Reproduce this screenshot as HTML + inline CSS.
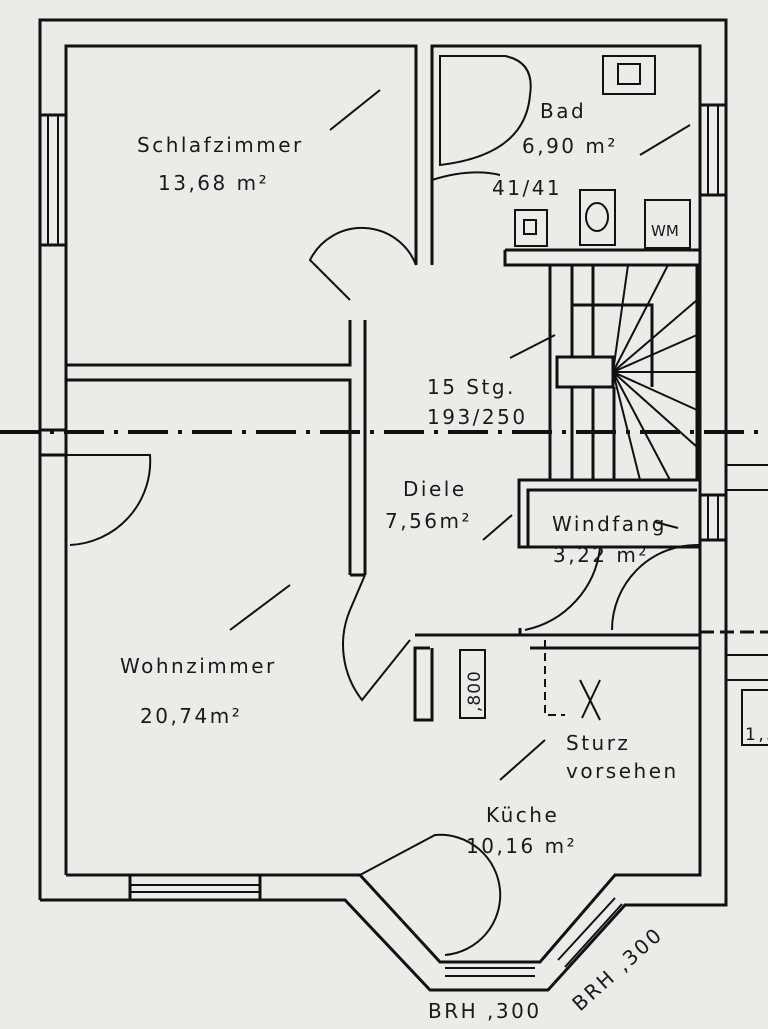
<!DOCTYPE html>
<html><head><meta charset="utf-8"><style>
html,body{margin:0;padding:0;background:#ececea;}
svg{display:block}
text{font-family:"DejaVu Sans","Liberation Sans",sans-serif;fill:#1a1a1a;}
</style></head><body>
<svg width="768" height="1029" viewBox="0 0 768 1029" xmlns="http://www.w3.org/2000/svg">
<rect width="768" height="1029" fill="#ebebe8"/>
<g fill="none" stroke="#111" stroke-width="3">
<polyline points="40,900 40,20 726,20 726,905 625,905 548,990 430,990 345,900 40,900"/>
<polyline points="66,875 66,46 416,46 416,265"/>
<polyline points="432,265 432,46 700,46 700,265"/>
<polyline points="700,265 700,875 615,875 540,962 440,962 360,875 66,875"/>
<line x1="48" y1="115" x2="48" y2="245" stroke-width="2"/><line x1="58" y1="115" x2="58" y2="245" stroke-width="2"/>
<line x1="40" y1="115" x2="66" y2="115"/><line x1="40" y1="245" x2="66" y2="245"/>
<line x1="40" y1="430" x2="66" y2="430"/><line x1="40" y1="455" x2="66" y2="455"/>
<line x1="708" y1="105" x2="708" y2="195" stroke-width="2"/><line x1="718" y1="105" x2="718" y2="195" stroke-width="2"/>
<line x1="700" y1="105" x2="726" y2="105"/><line x1="700" y1="195" x2="726" y2="195"/>
<line x1="708" y1="495" x2="708" y2="540" stroke-width="2"/><line x1="718" y1="495" x2="718" y2="540" stroke-width="2"/>
<line x1="700" y1="495" x2="726" y2="495"/><line x1="700" y1="540" x2="726" y2="540"/>
<line x1="130" y1="875" x2="130" y2="900"/><line x1="260" y1="875" x2="260" y2="900"/>
<line x1="130" y1="885" x2="260" y2="885" stroke-width="2"/><line x1="130" y1="892" x2="260" y2="892" stroke-width="2"/>
<line x1="445" y1="968" x2="535" y2="968" stroke-width="2"/><line x1="445" y1="976" x2="535" y2="976" stroke-width="2"/>
<line x1="558" y1="960" x2="615" y2="898" stroke-width="2"/><line x1="565" y1="967" x2="622" y2="904" stroke-width="2"/>
<polyline points="505,250 700,250"/><polyline points="505,250 505,265 700,265"/>
<polyline points="66,365 350,365 350,320"/>
<polyline points="66,380 350,380 350,575"/>
<polyline points="365,320 365,575"/>
<line x1="350" y1="575" x2="365" y2="575"/>
<rect x="550" y="265" width="147" height="215"/>
<rect x="557" y="357" width="56" height="30"/>
<polyline points="572,265 572,357"/><polyline points="593,265 593,357"/>
<polyline points="572,305 652,305 652,387"/>
<line x1="572" y1="387" x2="572" y2="480"/><line x1="593" y1="387" x2="593" y2="480"/><line x1="614" y1="387" x2="614" y2="480"/>
<g stroke-width="2">
<line x1="613" y1="372" x2="628" y2="265"/><line x1="613" y1="372" x2="668" y2="265"/>
<line x1="613" y1="372" x2="697" y2="300"/><line x1="613" y1="372" x2="697" y2="335"/>
<line x1="613" y1="372" x2="697" y2="372"/><line x1="613" y1="372" x2="697" y2="410"/>
<line x1="613" y1="372" x2="697" y2="447"/><line x1="613" y1="372" x2="670" y2="480"/>
<line x1="613" y1="372" x2="640" y2="480"/>
</g>
<polyline points="697,480 519,480 519,547 700,547"/>
<polyline points="528,547 528,490 697,490"/>
<line x1="415" y1="635" x2="700" y2="635"/>
<line x1="530" y1="648" x2="700" y2="648"/>
<polyline points="430,648 415,648 415,720 432,720 432,648"/>
<line x1="520" y1="628" x2="520" y2="635"/>
<path d="M350 300 L310 260 A58 58 0 0 1 416 265" stroke-width="2"/>
<path d="M66 455 L150 455 A84 84 0 0 1 70 545" stroke-width="2"/>
<path d="M365 575 L350 610 A90 90 0 0 0 362 700 L410 640" stroke-width="2"/>
<path d="M525 630 A95 95 0 0 0 600 548" stroke-width="2"/>
<path d="M612 630 A85 85 0 0 1 700 545" stroke-width="2"/>
<path d="M360 875 L435 835 A60 60 0 0 1 445 955" stroke-width="2"/>
<path d="M440 56 L505 56 Q535 62 530 95 Q525 155 440 165 Z" stroke-width="2"/>
<rect x="603" y="56" width="52" height="38" stroke-width="2"/>
<rect x="618" y="64" width="22" height="20" stroke-width="2"/>
<rect x="515" y="210" width="32" height="36" stroke-width="2"/>
<rect x="524" y="220" width="12" height="14" stroke-width="2"/>
<rect x="580" y="190" width="35" height="55" stroke-width="2"/>
<ellipse cx="597" cy="217" rx="11" ry="14" stroke-width="2"/>
<rect x="645" y="200" width="45" height="48" stroke-width="2"/>
<path d="M432 180 Q470 168 500 175" stroke-width="2"/>
<rect x="460" y="650" width="25" height="68" stroke-width="2"/>
<polyline points="545,640 545,715 565,715" stroke-width="2" stroke-dasharray="8,5"/>
<line x1="580" y1="680" x2="600" y2="720" stroke-width="2"/><line x1="600" y1="680" x2="582" y2="718" stroke-width="2"/>
<line x1="726" y1="465" x2="768" y2="465" stroke-width="2"/><line x1="726" y1="490" x2="768" y2="490" stroke-width="2"/>
<line x1="726" y1="655" x2="768" y2="655" stroke-width="2"/><line x1="726" y1="680" x2="768" y2="680" stroke-width="2"/>
<polyline points="768,690 742,690 742,745 768,745" stroke-width="2"/>
<line x1="700" y1="632" x2="768" y2="632" stroke-dasharray="14,6"/>
<g stroke-width="2">
<path d="M330 130 L380 90"/><path d="M640 155 L690 125"/><path d="M510 358 L555 335"/>
<path d="M483 540 L512 515"/><path d="M230 630 L290 585"/><path d="M500 780 L545 740"/>
<path d="M678 528 L655 522"/>
</g>
</g>
<line x1="0" y1="432" x2="768" y2="432" stroke="#111" stroke-width="4" stroke-dasharray="40,10,4,10"/>
<g font-size="20" letter-spacing="2.5">
<text x="137" y="152">Schlafzimmer</text>
<text x="158" y="190">13,68 m²</text>
<text x="540" y="118">Bad</text>
<text x="522" y="153">6,90 m²</text>
<text x="492" y="195">41/41</text>
<text x="651" y="236" font-size="15" letter-spacing="0">WM</text>
<text x="427" y="394">15 Stg.</text>
<text x="427" y="424">193/250</text>
<text x="403" y="496">Diele</text>
<text x="385" y="528">7,56m²</text>
<text x="552" y="531">Windfang</text>
<text x="553" y="562">3,22 m²</text>
<text x="120" y="673">Wohnzimmer</text>
<text x="140" y="723">20,74m²</text>
<text x="566" y="750">Sturz</text>
<text x="566" y="778">vorsehen</text>
<text x="486" y="822">Küche</text>
<text x="466" y="853">10,16 m²</text>
<text x="428" y="1018">BRH ,300</text>
<text x="745" y="740" font-size="17">1,3</text>
<text transform="translate(580,1012) rotate(-42)">BRH ,300</text>
<text transform="translate(480,712) rotate(-90)" font-size="17" letter-spacing="1">,800</text>
</g>
</svg>
</body></html>
